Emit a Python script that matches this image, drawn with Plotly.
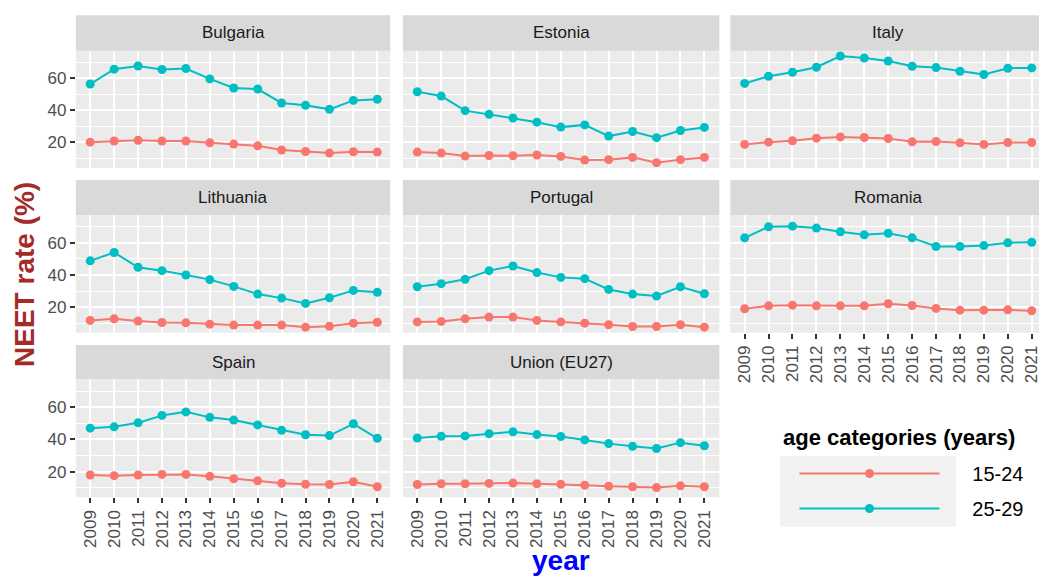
import plotly.graph_objects as go

years = list(range(2009, 2022))

countries = ["Bulgaria", "Estonia", "Italy", "Lithuania", "Portugal",
             "Romania", "Spain", "Union (EU27)"]

# NEET rate (%) age 15-24
bulgaria_15_24 = [20.2, 20.9, 21.4, 20.9, 20.9, 19.8, 19.0, 17.9, 15.3, 14.4, 13.4, 14.2, 14.0]
estonia_15_24 = [14.0, 13.4, 11.5, 11.9, 11.7, 12.2, 11.3, 9.1, 9.3, 10.7, 7.4, 9.3, 10.7]
italy_15_24 = [18.8, 20.2, 21.1, 22.7, 23.5, 23.1, 22.5, 20.4, 20.6, 19.8, 18.8, 20.0, 20.0]
lithuania_15_24 = [11.7, 12.7, 11.3, 10.4, 10.2, 9.4, 8.8, 8.8, 8.8, 7.5, 8.1, 10.0, 10.6]
portugal_15_24 = [10.8, 11.1, 12.7, 13.8, 13.8, 11.7, 10.8, 10.0, 9.0, 7.9, 7.9, 9.0, 7.5]
romania_15_24 = [19.0, 20.8, 21.2, 20.8, 20.8, 20.8, 22.1, 21.0, 19.2, 18.1, 18.1, 18.3, 17.7]
spain_15_24 = [17.9, 17.5, 17.9, 18.3, 18.3, 17.1, 15.6, 14.3, 12.8, 12.2, 12.0, 13.7, 10.6]
eu27_15_24 = [12.0, 12.5, 12.5, 12.7, 12.9, 12.5, 12.2, 11.6, 11.0, 10.6, 10.1, 11.2, 10.6]

# NEET rate (%) age 25-29
bulgaria_25_29 = [56.5, 65.8, 67.8, 65.6, 66.2, 59.7, 54.0, 53.4, 44.7, 43.2, 40.7, 46.3, 47.0]
estonia_25_29 = [51.7, 49.0, 39.9, 37.6, 35.3, 32.7, 29.6, 31.0, 24.0, 26.9, 23.0, 27.5, 29.4]
italy_25_29 = [56.9, 61.4, 63.9, 67.0, 74.0, 72.8, 70.9, 67.6, 66.8, 64.5, 62.5, 66.4, 66.6]
lithuania_25_29 = [48.8, 54.0, 44.8, 42.7, 40.0, 37.1, 32.9, 28.1, 25.6, 22.3, 25.8, 30.4, 29.2]
portugal_25_29 = [32.7, 34.6, 37.3, 42.7, 45.6, 41.5, 38.5, 37.7, 31.0, 28.1, 26.9, 32.7, 28.3]
romania_25_29 = [63.1, 70.0, 70.4, 69.2, 66.9, 65.0, 66.0, 63.1, 57.7, 57.7, 58.3, 60.0, 60.4]
spain_25_29 = [47.0, 47.8, 50.3, 54.9, 57.1, 53.7, 52.0, 49.0, 45.7, 42.9, 42.4, 49.7, 40.7]
eu27_25_29 = [40.9, 42.0, 42.2, 43.6, 44.7, 43.0, 41.8, 39.7, 37.4, 35.7, 34.4, 38.0, 36.1]

age_groups = ["15-24", "25-29"]
y_ticks = [20, 40, 60]

series_15_24 = [bulgaria_15_24, estonia_15_24, italy_15_24, lithuania_15_24,
                portugal_15_24, romania_15_24, spain_15_24, eu27_15_24]
series_25_29 = [bulgaria_25_29, estonia_25_29, italy_25_29, lithuania_25_29,
                portugal_25_29, romania_25_29, spain_25_29, eu27_25_29]

colors = {"15-24": "#F8766D", "25-29": "#00BFC4"}
FONT = "Liberation Sans, Arial, sans-serif"
W, H = 1041, 577
PAD = "\u00a0" * 5  # gap between legend key and label

# layout geometry (pixels)
col_px = [(76, 391), (403.7, 720.7), (731.7, 1041)]
row_px = [(50.7, 168), (215, 332.7), (379.3, 497.3)]
strip_px = [(15.3, 50.7), (180, 215), (345, 379.3)]
px_per_year = 23.97

all_vals = [v for s in series_15_24 + series_25_29 for v in s]
lo, hi = min(all_vals), max(all_vals)
span = hi - lo
y_range = [lo - 0.05 * span, hi + 0.05 * span]

fig = go.Figure()
layout_axes = {}
shapes = []
annotations = []

for i, name in enumerate(countries):
    r, c = divmod(i, 3)
    ax = i + 1
    xs = "x" if ax == 1 else f"x{ax}"
    ys = "y" if ax == 1 else f"y{ax}"
    for grp, data in zip(age_groups, [series_15_24[i], series_25_29[i]]):
        fig.add_trace(go.Scatter(
            x=years, y=data, mode="lines+markers", name=PAD + grp,
            legendgroup=grp, showlegend=(i == 0),
            line=dict(color=colors[grp], width=2),
            marker=dict(color=colors[grp], size=9),
            xaxis=xs, yaxis=ys))
    x0, x1 = col_px[c]
    y0, y1 = row_px[r]
    xmin = years[0] - 0.6
    xmax = xmin + (x1 - x0) / px_per_year
    bottom = (r == 2) or (r == 1 and c == 2)
    left = (c == 0)
    layout_axes[f"xaxis{ax if ax > 1 else ''}"] = dict(
        domain=[x0 / W, x1 / W], anchor=ys, range=[xmin, xmax],
        tickvals=years, ticktext=[str(y) for y in years],
        showticklabels=bottom, ticks="outside" if bottom else "",
        ticklabeloverflow="allow",
        ticklen=5, tickwidth=1.5, tickcolor="#333333", tickangle=-90,
        tickfont=dict(size=17, color="#4D4D4D", family=FONT),
        showgrid=True, gridcolor="white", gridwidth=1.8,
        zeroline=False, showline=False, fixedrange=True)
    layout_axes[f"yaxis{ax if ax > 1 else ''}"] = dict(
        domain=[1 - y1 / H, 1 - y0 / H], anchor=xs, range=y_range,
        tickvals=y_ticks, showticklabels=left, ticks="outside" if left else "",
        ticklen=5, tickwidth=1.5, tickcolor="#333333",
        tickfont=dict(size=17, color="#4D4D4D", family=FONT),
        showgrid=True, gridcolor="white", gridwidth=1.8,
        minor=dict(tickvals=[10, 30, 50, 70], showgrid=True,
                   gridcolor="white", gridwidth=0.8),
        zeroline=False, showline=False, fixedrange=True)
    # panel background
    shapes.append(dict(type="rect", xref="paper", yref="paper", layer="below",
                       x0=x0 / W, x1=x1 / W, y0=1 - y1 / H, y1=1 - y0 / H,
                       fillcolor="#EBEBEB", line=dict(width=0)))
    # strip
    s0, s1 = strip_px[r]
    shapes.append(dict(type="rect", xref="paper", yref="paper", layer="below",
                       x0=x0 / W, x1=x1 / W, y0=1 - s1 / H, y1=1 - s0 / H,
                       fillcolor="#D9D9D9", line=dict(width=0)))
    sx_center = (x0 + (x0 + 317)) / 2 if c == 2 else (x0 + x1) / 2
    annotations.append(dict(text=name, xref="paper", yref="paper",
                            x=sx_center / W, y=1 - (s0 + s1) / 2 / H,
                            showarrow=False, xanchor="center", yanchor="middle",
                            font=dict(size=17, color="#1A1A1A", family=FONT)))

annotations.append(dict(text="<b>NEET rate (%)</b>", xref="paper", yref="paper",
                        x=24 / W, y=1 - 274 / H, textangle=-90, showarrow=False,
                        xanchor="center", yanchor="middle",
                        font=dict(size=28, color="#A52A2A", family=FONT)))
annotations.append(dict(text="<b>year</b>", xref="paper", yref="paper",
                        x=562 / W, y=0, showarrow=False,
                        xanchor="center", yanchor="bottom", borderpad=0,
                        font=dict(size=28, color="#0000FF", family=FONT)))
# legend title
annotations.append(dict(text="<b>age categories (years)</b>", xref="paper", yref="paper",
                        x=783 / W, y=1 - 437 / H, showarrow=False,
                        xanchor="left", yanchor="middle",
                        font=dict(size=22, color="black", family=FONT)))

# legend key background
shapes.append(dict(type="rect", xref="paper", yref="paper", layer="below",
                   x0=781.7 / W, x1=958 / W, y0=1 - 526.7 / H, y1=1 - 456 / H,
                   fillcolor="#F2F2F2", line=dict(width=0)))

fig.update_layout(
    width=W, height=H, margin=dict(l=0, r=0, t=0, b=0),
    paper_bgcolor="white", plot_bgcolor="rgba(0,0,0,0)",
    font=dict(family=FONT),
    shapes=shapes, annotations=annotations,
    legend=dict(
        font=dict(size=20, color="black", family=FONT),
        x=796 / W, y=1 - 454 / H, xanchor="left", yanchor="top",
        bgcolor="rgba(0,0,0,0)", itemwidth=140, tracegroupgap=6,
        traceorder="grouped"),
    **layout_axes)

fig.write_html("out.html")
